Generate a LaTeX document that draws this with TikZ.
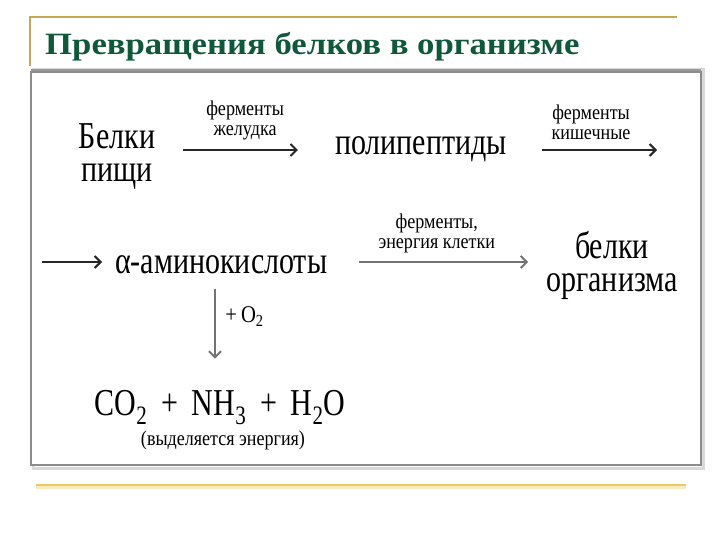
\documentclass[tikz,border=0pt]{standalone}
\usepackage{fontspec}
\setmainfont{Liberation Serif}
\newfontfamily\bigfont[FakeStretch=0.79]{Liberation Serif}
\newfontfamily\notefont[FakeStretch=0.86]{Liberation Serif}
\newfontfamily\titlefont[FakeStretch=1.12]{Liberation Serif}
\usepackage{tikz}
\usetikzlibrary{arrows.meta,calc,positioning}

\definecolor{titlegreen}{RGB}{16,88,58}
\definecolor{framegold}{RGB}{196,168,84}
\definecolor{linegold}{RGB}{236,202,96}

\begin{document}
\begin{tikzpicture}[x=1pt,y=-1pt,
  chem/.style={font=\bigfont\fontsize{38}{33}\selectfont,inner sep=0pt,align=center},
  formula/.style={font=\bigfont\fontsize{38}{36}\selectfont,inner sep=0pt},
  note/.style={font=\notefont\fontsize{21}{20}\selectfont,inner sep=0pt,align=center,text=black},
  link/.style={line width=2.8pt,black!85,-{Straight Barb[length=6pt,width=12pt,line width=2pt]}},
  greylink/.style={link,black!55}]
\useasboundingbox (0,0) rectangle (720,540);
% frame of the slide
\draw[framegold,line width=1.5pt] (30,66) -- (30,17) -- (677,17);
\draw[linegold!40,line width=5pt] (36,486) -- (686,486);
\draw[linegold,line width=2pt] (36,485) -- (686,485);
\node[anchor=base west,inner sep=0pt,text=titlegreen,
  font=\titlefont\bfseries\fontsize{31}{32}\selectfont] (title) at (45,55)
  {Превращения белков в организме};
% box of the scheme
\draw[black!15,line width=3pt] (33,70) rectangle (703,468);
\draw[black!40,line width=4pt] (31,71) -- (701,71);
\draw[black!45,line width=1.8pt,fill=white] (31,72) rectangle (701,465);
% texts
\coordinate (row1) at (0,150);
\coordinate (row2) at (0,262);
\coordinate (downx) at (215,0);
\node[chem,anchor=north] (food) at (117,123) {Белки\\пищи};
\node[chem,anchor=base] (peptide) at (421,155) {полипептиды};
\node[chem,anchor=base west] (amino) at (115,273) {α-аминокислоты};
\node[chem,anchor=north] (body) at (612,231) {белки\\организма};
\node[formula,anchor=base] (products) at (220,415)
  {CO\textsubscript{2} \,+\, NH\textsubscript{3} \,+\, H\textsubscript{2}O};
\node[note,anchor=base] (energy) at (223,445) {(выделяется энергия)};
\coordinate (start2) at (42,262);
\coordinate (end1) at (657,150);
% arrows
\draw[link,shorten <=28pt,shorten >=37pt] (food.east |- row1) --
  node[note,above=9pt] (stomach) {ферменты\\желудка} (peptide.west |- row1);
\draw[link,shorten <=35pt] (peptide.east |- row1) --
  node[note,above=9pt,xshift=9pt] (gut) {ферменты\\кишечные} (end1);
\draw[link,shorten >=13pt] (start2) -- (amino.west |- row2);
\draw[greylink,shorten <=32pt,shorten >=18pt] (amino.east |- row2) --
  node[note,above=8pt] (cell) {ферменты,\\энергия клетки} (body.west |- row2);
\draw[greylink,shorten <=15pt,shorten >=31pt] (amino.south -| downx) --
  node[note,right=9pt,yshift=15pt,font=\notefont\fontsize{24}{24}\selectfont] (oxygen)
  {+\,O\textsubscript{2}} (products.north -| downx);
\end{tikzpicture}
\end{document}
